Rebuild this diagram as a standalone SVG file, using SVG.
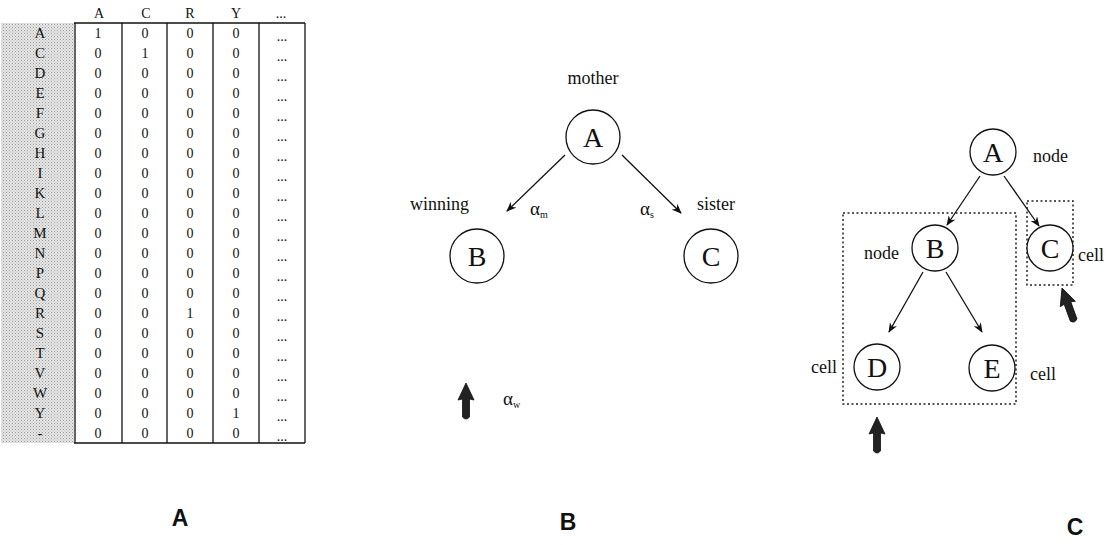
<svg xmlns="http://www.w3.org/2000/svg" width="1109" height="545" viewBox="0 0 1109 545">
<style>
.t{font-family:"Liberation Serif","Times New Roman",serif;fill:#111;}
.tb{font-size:14px;text-anchor:middle;}
.rl{font-size:15px;text-anchor:middle;}
.lbl{font-size:18px;}
.big{font-size:28px;text-anchor:middle;}
.cap{font-family:"Liberation Sans",Arial,sans-serif;font-weight:bold;font-size:23px;text-anchor:middle;fill:#111;}
.grid{stroke:#111;stroke-width:1.3;fill:none;}
.circ{fill:#fff;stroke:#111;stroke-width:1.3;}
.edge{stroke:#111;stroke-width:1.3;fill:none;marker-end:url(#ah);}
.dot{fill:none;stroke:#222;stroke-width:1.5;stroke-dasharray:2 2.5;}
.fat{fill:#222;stroke:#111;stroke-width:0.8;}
</style>
<defs>
<marker id="ah" markerWidth="10" markerHeight="8" refX="9" refY="4" orient="auto" markerUnits="userSpaceOnUse">
<path d="M0,0 L10,4 L0,8 L3,4 Z" fill="#111"/>
</marker>
<pattern id="stip" width="3" height="3" patternUnits="userSpaceOnUse">
<rect width="3" height="3" fill="#e6e6e6"/>
<rect width="1" height="1" fill="#9a9a9a"/>
<rect x="1.5" y="1.5" width="1" height="1" fill="#b0b0b0"/>
</pattern>
<path id="fatArrow" d="M0,0 L8,17 L3.5,16 L3.5,34 Q0,38 -3.5,34 L-3.5,16 L-8,17 Z"/>
</defs>

<g id="table">
<rect x="1" y="23" width="73" height="420" fill="url(#stip)"/>
<g class="grid">
<line x1="74" y1="23" x2="305" y2="23"/>
<line x1="74" y1="443" x2="305" y2="443"/>
<line x1="75" y1="23" x2="75" y2="443"/>
<line x1="122" y1="23" x2="122" y2="443"/>
<line x1="167" y1="23" x2="167" y2="443"/>
<line x1="213" y1="23" x2="213" y2="443"/>
<line x1="259" y1="23" x2="259" y2="443"/>
<line x1="305" y1="23" x2="305" y2="443"/>
</g>
<g class="t tb">
<text x="99" y="18">A</text><text x="146" y="18">C</text><text x="190" y="18">R</text><text x="236" y="18">Y</text><text x="281" y="18">...</text>
</g>
<g class="t rl">
<text x="40" y="38">A</text><text x="40" y="58">C</text><text x="40" y="78">D</text><text x="40" y="98">E</text><text x="40" y="118">F</text><text x="40" y="138">G</text><text x="40" y="158">H</text><text x="40" y="178">I</text><text x="40" y="198">K</text><text x="40" y="218">L</text><text x="40" y="238">M</text><text x="40" y="258">N</text><text x="40" y="278">P</text><text x="40" y="298">Q</text><text x="40" y="318">R</text><text x="40" y="338">S</text><text x="40" y="358">T</text><text x="40" y="378">V</text><text x="40" y="398">W</text><text x="40" y="418">Y</text><text x="40" y="438">-</text>
</g>
<g class="t tb">
<text x="98" y="38">1</text><text x="145" y="38">0</text><text x="190" y="38">0</text><text x="236" y="38">0</text>
<text x="98" y="58">0</text><text x="145" y="58">1</text><text x="190" y="58">0</text><text x="236" y="58">0</text>
<text x="98" y="78">0</text><text x="145" y="78">0</text><text x="190" y="78">0</text><text x="236" y="78">0</text>
<text x="98" y="98">0</text><text x="145" y="98">0</text><text x="190" y="98">0</text><text x="236" y="98">0</text>
<text x="98" y="118">0</text><text x="145" y="118">0</text><text x="190" y="118">0</text><text x="236" y="118">0</text>
<text x="98" y="138">0</text><text x="145" y="138">0</text><text x="190" y="138">0</text><text x="236" y="138">0</text>
<text x="98" y="158">0</text><text x="145" y="158">0</text><text x="190" y="158">0</text><text x="236" y="158">0</text>
<text x="98" y="178">0</text><text x="145" y="178">0</text><text x="190" y="178">0</text><text x="236" y="178">0</text>
<text x="98" y="198">0</text><text x="145" y="198">0</text><text x="190" y="198">0</text><text x="236" y="198">0</text>
<text x="98" y="218">0</text><text x="145" y="218">0</text><text x="190" y="218">0</text><text x="236" y="218">0</text>
<text x="98" y="238">0</text><text x="145" y="238">0</text><text x="190" y="238">0</text><text x="236" y="238">0</text>
<text x="98" y="258">0</text><text x="145" y="258">0</text><text x="190" y="258">0</text><text x="236" y="258">0</text>
<text x="98" y="278">0</text><text x="145" y="278">0</text><text x="190" y="278">0</text><text x="236" y="278">0</text>
<text x="98" y="298">0</text><text x="145" y="298">0</text><text x="190" y="298">0</text><text x="236" y="298">0</text>
<text x="98" y="318">0</text><text x="145" y="318">0</text><text x="190" y="318">1</text><text x="236" y="318">0</text>
<text x="98" y="338">0</text><text x="145" y="338">0</text><text x="190" y="338">0</text><text x="236" y="338">0</text>
<text x="98" y="358">0</text><text x="145" y="358">0</text><text x="190" y="358">0</text><text x="236" y="358">0</text>
<text x="98" y="378">0</text><text x="145" y="378">0</text><text x="190" y="378">0</text><text x="236" y="378">0</text>
<text x="98" y="398">0</text><text x="145" y="398">0</text><text x="190" y="398">0</text><text x="236" y="398">0</text>
<text x="98" y="418">0</text><text x="145" y="418">0</text><text x="190" y="418">0</text><text x="236" y="418">1</text>
<text x="98" y="438">0</text><text x="145" y="438">0</text><text x="190" y="438">0</text><text x="236" y="438">0</text>
</g>
<g class="t tb">
<text x="282" y="41">...</text><text x="282" y="61">...</text><text x="282" y="81">...</text><text x="282" y="101">...</text><text x="282" y="121">...</text><text x="282" y="141">...</text><text x="282" y="161">...</text><text x="282" y="181">...</text><text x="282" y="201">...</text><text x="282" y="221">...</text><text x="282" y="241">...</text><text x="282" y="261">...</text><text x="282" y="281">...</text><text x="282" y="301">...</text><text x="282" y="321">...</text><text x="282" y="341">...</text><text x="282" y="361">...</text><text x="282" y="381">...</text><text x="282" y="401">...</text><text x="282" y="421">...</text><text x="282" y="441">...</text>
</g>
</g>

<g id="edges">
<line class="edge" x1="565" y1="155" x2="507" y2="211"/>
<line class="edge" x1="622" y1="155" x2="681" y2="213"/>
<line class="edge" x1="980" y1="176" x2="947" y2="225"/>
<line class="edge" x1="1004" y1="176" x2="1039" y2="226"/>
<line class="edge" x1="923" y1="272" x2="889" y2="332"/>
<line class="edge" x1="946" y1="272" x2="982" y2="332"/>
</g>

<g id="panelB-labels" class="t lbl">
<text x="593" y="84" text-anchor="middle">mother</text>
<text x="410" y="210">winning</text>
<text x="697" y="210">sister</text>
<text x="530" y="215" font-size="19">α<tspan font-size="10" dy="3">m</tspan></text>
<text x="640" y="215" font-size="19">α<tspan font-size="10" dy="3">s</tspan></text>
<text x="503" y="405" font-size="19">α<tspan font-size="10" dy="3">w</tspan></text>
</g>
<g id="B-A"><circle class="circ" cx="593" cy="137" r="27"/><text class="t big" x="593" y="147">A</text></g>
<g id="B-B"><circle class="circ" cx="477" cy="256" r="27"/><text class="t big" x="477" y="266">B</text></g>
<g id="B-C"><circle class="circ" cx="711" cy="256" r="27"/><text class="t big" x="711" y="266">C</text></g>
<g id="B-pointer"><use href="#fatArrow" class="fat" transform="translate(466,383)"/></g>

<g id="C-boxes">
<rect class="dot" x="843" y="213" width="173" height="191"/>
<rect class="dot" x="1027" y="201" width="46" height="84"/>
</g>
<g id="C-A"><circle class="circ" cx="993" cy="152" r="23"/><text class="t big" x="993" y="162">A</text><text class="t lbl" x="1033" y="162">node</text></g>
<g id="C-B"><circle class="circ" cx="935" cy="248" r="23"/><text class="t big" x="935" y="258">B</text><text class="t lbl" x="864" y="259">node</text></g>
<g id="C-C"><circle class="circ" cx="1050" cy="248" r="23"/><text class="t big" x="1050" y="258">C</text><text class="t lbl" x="1078" y="261">cell</text></g>
<g id="C-D"><circle class="circ" cx="877" cy="367" r="23"/><text class="t big" x="877" y="377">D</text><text class="t lbl" x="811" y="373">cell</text></g>
<g id="C-E"><circle class="circ" cx="992" cy="368" r="23"/><text class="t big" x="992" y="378">E</text><text class="t lbl" x="1030" y="380">cell</text></g>
<g id="C-pointers">
<use href="#fatArrow" class="fat" transform="translate(877,417)"/>
<use href="#fatArrow" class="fat" transform="translate(1062,288) rotate(-20)"/>
</g>

<g id="captions">
<text class="cap" x="180" y="526">A</text>
<text class="cap" x="568" y="530">B</text>
<text class="cap" x="1075" y="535">C</text>
</g>
</svg>
